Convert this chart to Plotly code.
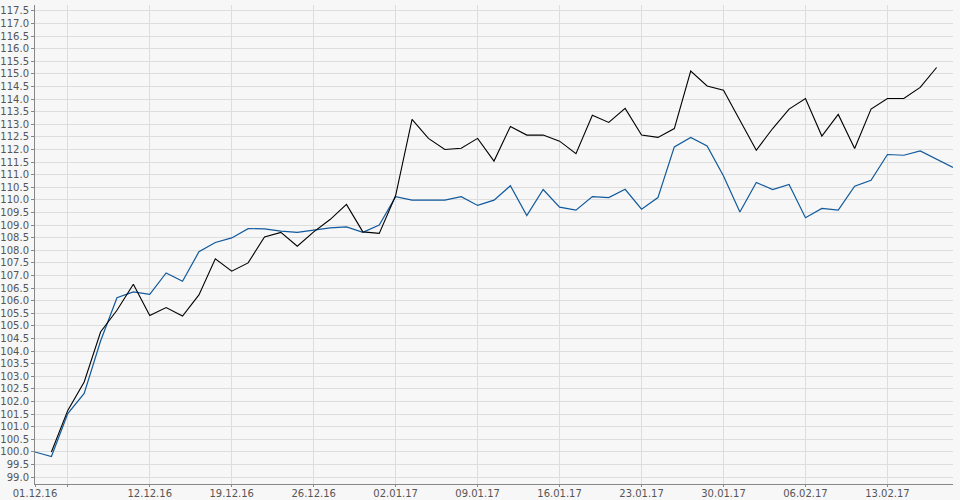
import pandas as pd
import plotly.graph_objects as go

dates = pd.bdate_range("2016-12-01", "2017-02-17")

blue_values = [100.0, 99.82, 101.52, 102.32, 104.4, 106.12, 106.35, 106.25, 107.1, 106.77,
               107.94, 108.31, 108.49, 108.86, 108.85, 108.76, 108.71, 108.8, 108.89, 108.93,
               108.71, 109.0, 110.13, 109.99, 109.99, 109.99, 110.13, 109.78, 109.99, 110.56,
               109.38, 110.41, 109.71, 109.59, 110.13, 110.09, 110.42, 109.63, 110.09, 112.1,
               112.48, 112.14, 110.95, 109.52, 110.69, 110.41, 110.61, 109.29, 109.66, 109.59,
               110.54, 110.78, 111.8, 111.77, 111.94, 111.61, 111.29]

black_values = [None, 100.0, 101.65, 102.78, 104.76, 105.62, 106.65, 105.41, 105.73, 105.39,
                106.23, 107.66, 107.17, 107.5, 108.53, 108.71, 108.16, 108.73, 109.22, 109.82,
                108.73, 108.67, 110.17, 113.19, 112.44, 112.0, 112.05, 112.44, 111.54, 112.91,
                112.57, 112.57, 112.33, 111.83, 113.36, 113.07, 113.63, 112.57, 112.48, 112.83,
                115.11, 114.52, 114.35, 113.16, 111.97, 112.83, 113.6, 114.02, 112.53, 113.39,
                112.04, 113.6, 114.02, 114.02, 114.46, 115.25, None]

x_tick_dates = ["2016-12-01", "2016-12-05", "2016-12-12", "2016-12-19", "2016-12-26",
                "2017-01-02", "2017-01-09", "2017-01-16", "2017-01-23", "2017-01-30",
                "2017-02-06", "2017-02-13"]
x_tick_labels = ["01.12.16", "", "12.12.16", "19.12.16", "26.12.16", "02.01.17", "09.01.17",
                 "16.01.17", "23.01.17", "30.01.17", "06.02.17", "13.02.17"]

y_tick_vals = [99.0 + 0.5 * i for i in range(38)]
y_tick_labels = [f"{v:.1f}" for v in y_tick_vals]

fig = go.Figure()
fig.add_trace(go.Scatter(x=dates, y=blue_values, mode="lines",
                         line=dict(color="#10599c", width=1.2), showlegend=False))
fig.add_trace(go.Scatter(x=dates, y=black_values, mode="lines",
                         line=dict(color="#000000", width=1.1), showlegend=False))

fig.update_layout(
    width=960, height=500,
    margin=dict(l=35, r=7, t=5, b=16),
    paper_bgcolor="#f7f7f7", plot_bgcolor="#f7f7f7",
    font=dict(family="DejaVu Sans", size=10, color="#555555"),
)
fig.update_xaxes(
    range=["2016-12-01", "2017-02-17"],
    rangebreaks=[dict(bounds=["sat", "mon"])],
    tickmode="array", tickvals=x_tick_dates, ticktext=x_tick_labels,
    showgrid=True, gridcolor="#dddddd", gridwidth=1,
    showline=True, linecolor="#888888", linewidth=1,
    ticks="outside", ticklen=2, tickcolor="#888888",
    zeroline=False, tickfont=dict(size=10, color="#555555"),
    automargin=False, ticklabelstandoff=-2,
)
fig.update_yaxes(
    range=[98.73, 117.73],
    tickmode="array", tickvals=y_tick_vals, ticktext=y_tick_labels,
    showgrid=True, gridcolor="#dddddd", gridwidth=1,
    showline=True, linecolor="#888888", linewidth=1,
    ticks="outside", ticklen=3, tickcolor="#888888",
    zeroline=False, tickfont=dict(size=10, color="#555555"),
    automargin=False, ticklabelstandoff=0,
)

fig.write_html("out.html", config={"displayModeBar": False},
               post_script="document.body.style.margin='0';document.body.style.background='#f7f7f7';")
